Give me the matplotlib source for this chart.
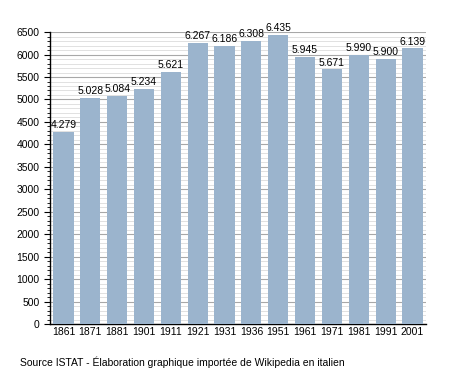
import matplotlib
matplotlib.use("Agg")
import matplotlib.pyplot as plt
from matplotlib.ticker import MultipleLocator

plt.rcParams["font.family"] = ["Liberation Sans", "DejaVu Sans"]

years = ["1861", "1871", "1881", "1901", "1911", "1921", "1931", "1936", "1951", "1961", "1971", "1981", "1991", "2001"]
population = [4279, 5028, 5084, 5234, 5621, 6267, 6186, 6308, 6435, 5945, 5671, 5990, 5900, 6139]
labels = ["4.279", "5.028", "5.084", "5.234", "5.621", "6.267", "6.186", "6.308", "6.435", "5.945", "5.671", "5.990", "5.900", "6.139"]
source = "Source ISTAT - Élaboration graphique importée de Wikipedia en italien"

fig = plt.figure(figsize=(4.55, 3.73), dpi=100)
ax = fig.add_axes([0.11, 0.131, 0.826, 0.783])
x = list(range(len(years)))
ax.bar(x, population, width=0.75, color="#9bb4cd", zorder=3)
for xi, v, lab in zip(x, population, labels):
    ax.text(xi, v + 40, lab, ha="center", va="bottom", fontsize=7.5, zorder=4)

ax.set_xlim(-0.5, len(years) - 0.5)
ax.set_ylim(0, 6500)
ax.yaxis.set_major_locator(MultipleLocator(500))
ax.yaxis.set_minor_locator(MultipleLocator(100))
ax.grid(which="major", axis="y", color="#a8a8a8", linewidth=0.8, zorder=1)
ax.grid(which="minor", axis="y", color="#dcdcdc", linewidth=0.6, zorder=0)
ax.set_xticks(x)
ax.set_xticklabels(years)
ax.tick_params(axis="x", length=0, labelsize=7.5, pad=2)
ax.tick_params(axis="y", which="major", length=4, labelsize=7.5, direction="out")
ax.tick_params(axis="y", which="minor", length=2, direction="out")
for s in ["top", "right"]:
    ax.spines[s].set_visible(False)
ax.spines["left"].set_linewidth(1.0)
ax.spines["bottom"].set_linewidth(1.0)
fig.text(20 / 455, 1 - 362 / 373, source, fontsize=7.5, va="center", ha="left")
fig.savefig("out.png", dpi=100)
